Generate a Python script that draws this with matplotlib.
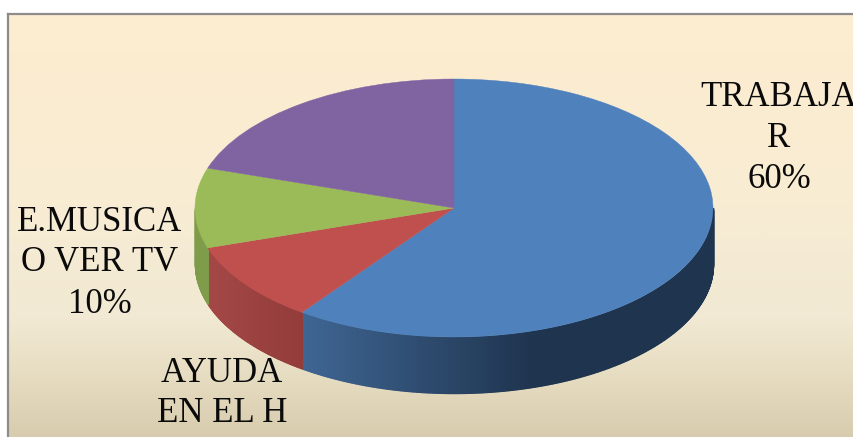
import matplotlib
matplotlib.use("Agg")
import matplotlib.pyplot as plt
import numpy as np
from matplotlib.colors import to_rgb

# === DATA ===
slice_names = ["TRABAJAR", "AYUDA EN EL H", "E.MUSICA O VER TV", "OTROS"]
slice_values = [60, 10, 10, 20]
slice_colors = ["#4F81BD", "#C0504D", "#9BBB59", "#8064A2"]
label_lines = [
    ["TRABAJA", "R", "60%"],
    ["AYUDA", "EN EL H"],
    ["E.MUSICA", "O VER TV", "10%"],
]

# === LAYOUT (pixels of the 854x437 picture) ===
W, H = 854, 437
CX, CY, RX, RY = 454, 208, 259, 129
DEPTH = 56 / RY
FRAME_X, FRAME_Y = 8, 14
label_x = [779, 222, 100]
label_y = [[106, 147, 188], [382, 422], [231, 271, 313]]

fig = plt.figure(figsize=(W / 100, H / 100), dpi=100, facecolor="white")


def fx(x):
    return x / W


def fy(y):
    return 1 - y / H


# === BACKGROUND GRADIENT ===
bg = fig.add_axes([fx(FRAME_X), 0, 1 - fx(FRAME_X), fy(FRAME_Y)])
stops_y = [0, 0.45, 0.72, 0.85, 1]
stops_c = np.array([to_rgb(c) for c in ["#FDEDD0", "#F8ECD3", "#F1E9D3", "#E7DDC2", "#D8CCAE"]])
t = np.linspace(0, 1, 424)
grad = np.stack([np.interp(t, stops_y, stops_c[:, i]) for i in range(3)], axis=1)[:, None, :]
bg.imshow(grad, aspect="auto", extent=[0, 1, 0, 1])
bg.set_xticks([])
bg.set_yticks([])
for side in ["right", "bottom"]:
    bg.spines[side].set_visible(False)
for side in ["left", "top"]:
    bg.spines[side].set_color("#8C8C8C")
    bg.spines[side].set_linewidth(1.6)

# === PIE, one data unit = one radius ===
ax = fig.add_axes([0, 0, 1, 1])
ax.patch.set_visible(False)
ax.pie(slice_values, colors=slice_colors, startangle=90, counterclock=False,
       radius=1, wedgeprops={"linewidth": 0.3, "zorder": 3})
for w, c in zip(ax.patches, slice_colors):
    w.set_edgecolor(c)
ax.set_aspect("auto")
ax.set_xlim((0 - CX) / RX, (W - CX) / RX)
ax.set_ylim((CY - H) / RY, CY / RY)
ax.axis("off")


# === SIDE WALL ===
def shade(i, x):
    # side colour of slice i at horizontal position x (-1..1)
    if i == 0:
        start, end = to_rgb("#3F6693"), to_rgb("#1F344F")
        k = np.clip((x + 0.59) / 0.89, 0, 1)
    elif i == 1:
        start, end = to_rgb("#A34846"), to_rgb("#933C3A")
        k = np.clip((x + 0.95) / 0.36, 0, 1)
    else:
        start, end = to_rgb("#7F9C4A"), to_rgb("#7F9C4A")
        k = 0
    return np.array(start) + (np.array(end) - np.array(start)) * k


edges = 90 - np.cumsum([0] + slice_values) * 3.6
for i in range(len(slice_values)):
    a0 = max(edges[i + 1], -180)
    a1 = min(edges[i], 0)
    if a0 >= a1:
        continue
    n = max(int((a1 - a0) * 2), 8)
    angles = np.radians(np.linspace(a1, a0, n))
    for p, q in zip(angles[:-1], angles[1:]):
        seg = np.linspace(p, q, 4)
        col = shade(i, np.cos((p + q) / 2))
        ax.fill_between(np.cos(seg), np.sin(seg), np.sin(seg) - DEPTH,
                        color=col, linewidth=1.0, zorder=2)

# === LABELS ===
for lines, x, ys in zip(label_lines, label_x, label_y):
    for line, y in zip(lines, ys):
        fig.text(fx(x), fy(y), line, ha="center", va="baseline", fontsize=25,
                 family="Liberation Serif", color="#0A0A0A", zorder=5)

fig.savefig("out.png", dpi=100)
